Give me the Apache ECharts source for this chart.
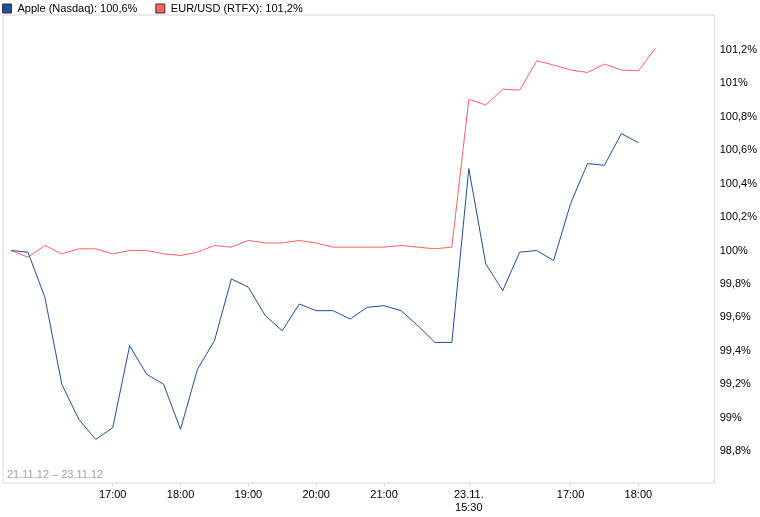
<!DOCTYPE html>
<html lang="de">
<head>
  <meta charset="UTF-8">
  <title>Apple vs EUR/USD</title>
  <script src="https://cdn.jsdelivr.net/npm/echarts@6.0.0/dist/echarts.min.js"></script>
  <style>
    html, body { margin: 0; padding: 0; background: #fff; }
  </style>
</head>
<body>
<div id="chart" style="width: 760px; height: 517px;"></div>

<script>
  // Zeitachse: Index = 15-Minuten-Schritt (21.11. 15:30-22:00, 23.11. 15:30-19:00)
  var tickIndex = [6, 10, 14, 18, 22, 27, 33, 37];
  var tickLabels = ['17:00', '18:00', '19:00', '20:00', '21:00', '23.11.\n15:30', '17:00', '18:00'];

  // Werte in % (Startwert = 100)
  var appleValues = [
    100.00, 99.99, 99.72, 99.20, 98.99, 98.87, 98.94, 99.43, 99.26, 99.20,
    98.93, 99.29, 99.46, 99.83, 99.78, 99.61, 99.52, 99.68, 99.64, 99.64,
    99.59, 99.66, 99.67, 99.64, 99.55, 99.45, 99.45,
    100.49, 99.92, 99.76, 99.99, 100.00, 99.94, 100.28, 100.52, 100.51,
    100.70, 100.645
  ];
  var eurusdValues = [
    100.00, 99.96, 100.03, 99.98, 100.01, 100.01, 99.98, 100.00, 100.00, 99.98,
    99.97, 99.99, 100.03, 100.02, 100.06, 100.045, 100.045, 100.06, 100.045, 100.02,
    100.02, 100.02, 100.02, 100.03, 100.02, 100.01, 100.02,
    100.905, 100.87, 100.965, 100.96, 101.135, 101.11, 101.08, 101.065, 101.115,
    101.08, 101.075, 101.21
  ];
  var yTicks = [98.8, 99, 99.2, 99.4, 99.6, 99.8, 100, 100.2, 100.4, 100.6, 100.8, 101, 101.2];

  var seriesNames = ['Apple (Nasdaq)', 'EUR/USD (RTFX)'];
  var colors = ['#1f4f9e', '#ff6262'];
  var dateRange = '21.11.12 \u2013 23.11.12';

  var FONT = '"Liberation Sans", Arial, sans-serif';

  function pct(v) {
    var s = (Math.round(v * 10) / 10).toFixed(1);
    if (s.slice(-2) === '.0') s = s.slice(0, -2);
    return s.replace('.', ',') + '%';
  }

  function toPoints(arr) {
    return arr.map(function (v, i) { return [i, v]; });
  }

  var lastVals = {};
  lastVals[seriesNames[0]] = appleValues[appleValues.length - 1];
  lastVals[seriesNames[1]] = eurusdValues[eurusdValues.length - 1];

  var chart = echarts.init(document.getElementById('chart'));

  var option = {
    animation: false,
    color: colors,
    textStyle: { fontFamily: FONT },
    legend: {
      left: 2,
      top: 3,
      icon: 'rect',
      itemWidth: 9,
      itemHeight: 9,
      itemGap: 18,
      padding: 0,
      textStyle: { fontSize: 11, color: '#000', fontFamily: FONT, padding: [0, 0, 0, 1] },
      itemStyle: { borderColor: '#333', borderWidth: 1 },
      formatter: function (name) { return name + ': ' + pct(lastVals[name]); },
      data: seriesNames
    },
    grid: {
      left: 3,
      top: 15,
      right: 42,
      bottom: 34,
      show: true,
      borderColor: '#d8d8d8',
      borderWidth: 1,
      backgroundColor: '#fff'
    },
    xAxis: {
      type: 'value',
      min: -0.47,
      max: 41.5,
      axisLine: { show: false },
      splitLine: { show: false },
      axisTick: {
        show: true,
        length: 3,
        customValues: tickIndex,
        lineStyle: { color: '#d8d8d8' }
      },
      axisLabel: {
        customValues: tickIndex,
        margin: 5,
        fontSize: 11,
        color: '#000',
        lineHeight: 13,
        fontFamily: FONT,
        formatter: function (v) {
          var k = tickIndex.indexOf(Math.round(v));
          return k >= 0 ? tickLabels[k] : '';
        }
      }
    },
    yAxis: {
      type: 'value',
      position: 'right',
      min: 98.609,
      max: 101.409,
      axisLine: { show: false },
      axisTick: { show: false },
      splitLine: { show: false },
      axisLabel: {
        customValues: yTicks,
        margin: 5,
        padding: [5, 0, 0, 0],
        fontSize: 11,
        color: '#000',
        fontFamily: FONT,
        formatter: function (v) { return pct(v); }
      }
    },
    graphic: [{
      type: 'text',
      left: 7,
      top: 469,
      style: {
        text: dateRange,
        fill: '#a0a0a0',
        font: '11px ' + FONT
      }
    }],
    series: [
      {
        name: seriesNames[0],
        type: 'line',
        data: toPoints(appleValues),
        showSymbol: false,
        lineStyle: { width: 1, color: colors[0] },
        z: 3
      },
      {
        name: seriesNames[1],
        type: 'line',
        data: toPoints(eurusdValues),
        showSymbol: false,
        lineStyle: { width: 1, color: colors[1] },
        z: 2
      }
    ]
  };

  chart.setOption(option);
</script>
</body>
</html>
